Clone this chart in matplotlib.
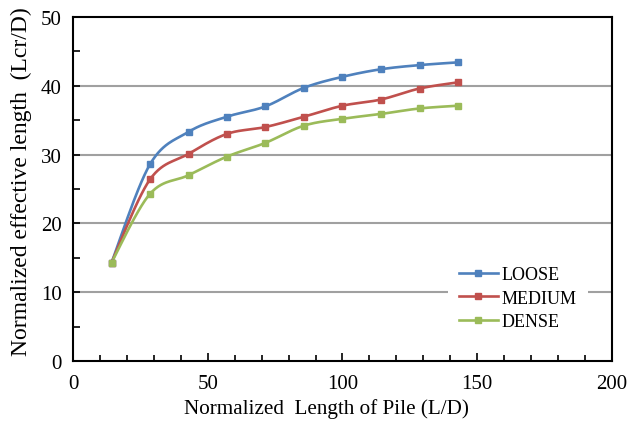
import numpy as np
import matplotlib
matplotlib.use("Agg")
import matplotlib.pyplot as plt

plt.rcParams['font.family'] = ['Liberation Serif', 'DejaVu Serif']

# 数据
ld = [14.3, 28.6, 42.9, 57.1, 71.4, 85.7, 100.0, 114.3, 128.6, 142.9]
loose = [14.3, 28.6, 33.3, 35.5, 37.0, 39.7, 41.3, 42.4, 43.0, 43.4]
medium = [14.3, 26.4, 30.1, 33.0, 34.0, 35.5, 37.1, 38.0, 39.6, 40.5]
dense = [14.3, 24.3, 27.0, 29.7, 31.7, 34.2, 35.2, 35.9, 36.7, 37.1]
series_names = ['LOOSE', 'MEDIUM', 'DENSE']
colors = ['#4F81BD', '#C0504D', '#9BBB59']


# Excel风格平滑线 (Catmull-Rom -> Bezier)
def smooth(x, y, n=30):
    p = np.column_stack([x, y]).astype(float)
    p = np.vstack([p[0], p, p[-1]])
    out = []
    t = np.linspace(0, 1, n)[:, None]
    for i in range(1, len(p) - 2):
        p0, p1, p2, p3 = p[i - 1], p[i], p[i + 1], p[i + 2]
        c1 = p1 + (p2 - p0) / 6
        c2 = p2 - (p3 - p1) / 6
        seg = ((1 - t) ** 3) * p1 + 3 * ((1 - t) ** 2) * t * c1 + 3 * (1 - t) * t ** 2 * c2 + t ** 3 * p2
        out.append(seg if i == 1 else seg[1:])
    out = np.vstack(out)
    return out[:, 0], out[:, 1]


fig = plt.figure(figsize=(6.27, 4.27), dpi=100)
ax = fig.add_axes([0.1164, 0.1522, 0.8596, 0.8058])

for ys, name, c in zip([loose, medium, dense], series_names, colors):
    sx, sy = smooth(ld, ys)
    ax.plot(sx, sy, color=c, lw=1.9, zorder=3)
    ax.plot(ld, ys, ls='none', marker='s', ms=5, color=c, zorder=4)
    ax.plot([], [], color=c, lw=1.9, marker='s', ms=5, label=name)

ax.set_xlim(0, 200)
ax.set_ylim(0, 50)
ax.set_xticks([0, 50, 100, 150, 200])
ax.set_xticks(np.arange(0, 201, 10), minor=True)
ax.set_yticks([0, 10, 20, 30, 40, 50])
ax.set_yticks(np.arange(0, 51, 5), minor=True)
ax.tick_params(which='both', direction='in', labelsize=15, width=1.2, top=False, right=False)
ax.tick_params(which='major', length=6)
ax.tick_params(which='minor', length=4)
ax.tick_params(axis='x', which='both', pad=9)
ax.tick_params(axis='y', which='both', length=5, pad=8)

for y in [10, 20, 30, 40]:
    ax.axhline(y, color='#A0A0A0', lw=1.5, zorder=1)

for s in ax.spines.values():
    s.set_linewidth(1.5)

ax.set_xlabel('Normalized  Length of Pile (L/D)', fontsize=15.2)
ax.xaxis.set_label_coords(0.470, -0.108)
ax.set_ylabel('Normalized effective length  (Lcr/D)', fontsize=17)
ax.yaxis.set_label_coords(-0.076, 0.523)

leg = ax.legend(loc='lower right', bbox_to_anchor=(0.955, 0.058), frameon=True, fontsize=13,
                handlelength=2.2, handletextpad=0.2, labelspacing=0.36, borderpad=0.6,
                borderaxespad=0, fancybox=False)
leg.get_frame().set_edgecolor('none')
leg.get_frame().set_facecolor('white')
leg.get_frame().set_alpha(1)
leg.set_zorder(5)

plt.savefig('out.png', dpi=100)
